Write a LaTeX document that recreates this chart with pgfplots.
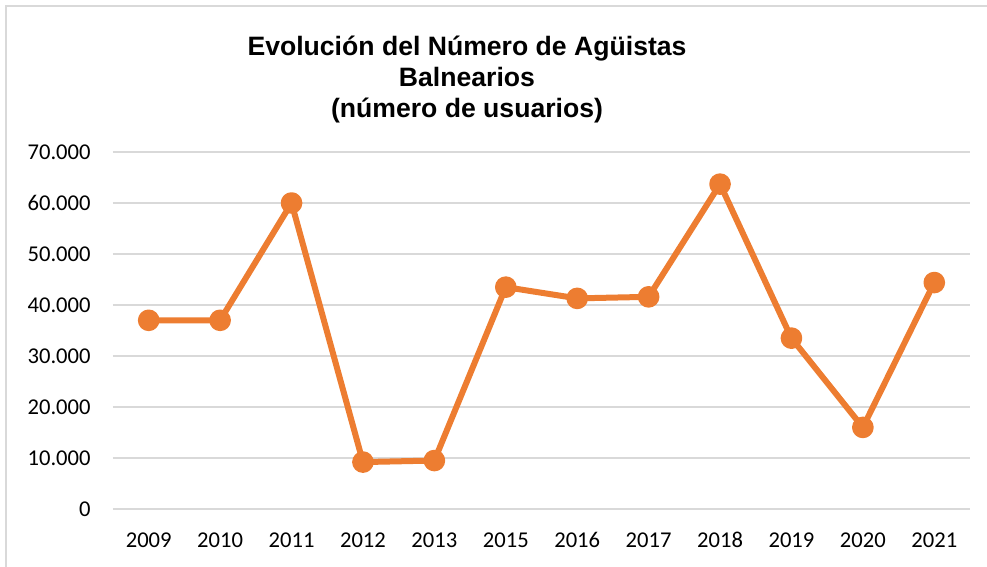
\documentclass[border=0pt]{standalone}
\usepackage{pgfplots}
\pgfplotsset{compat=1.18}
\usepackage{fontspec}
\setmainfont{Carlito}
\newfontfamily\titlefont{Liberation Sans}
\definecolor{serie}{HTML}{ED7D31}
\definecolor{rejilla}{HTML}{D9D9D9}
\begin{document}
\begin{tikzpicture}
\path[use as bounding box] (0,0) rectangle (493.5pt,283.5pt);
% marco del grafico (solo borde izquierdo y superior visibles)
\draw[rejilla, line width=1pt] (3pt,-1pt) -- (3pt,280.5pt) -- (494.5pt,280.5pt);
\node[align=center, font=\titlefont\bfseries\fontsize{13.3}{15.5}\selectfont]
  at (233.5pt,243.5pt) {Evolución del Número de Agüistas\\Balnearios\\(número de usuarios)};
\begin{axis}[
    at={(56.5pt,29pt)}, anchor=south west,
    scale only axis,
    width=428.5pt, height=178.5pt,
    xmin=-0.5, xmax=11.5,
    ymin=0, ymax=70000,
    xtick={0,...,11},
    xticklabels={2009,2010,2011,2012,2013,2015,2016,2017,2018,2019,2020,2021},
    ytick={0,10000,...,70000},
    scaled y ticks=false,
    y tick label style={/pgf/number format/fixed, /pgf/number format/1000 sep={.}},
    /pgf/number format/assume math mode=true,
    tick label style={font=\fontsize{11.3}{13}\selectfont, text=black, inner sep=0pt},
    yticklabel style={anchor=east, xshift=-11pt},
    xticklabel style={anchor=north, yshift=-11.5pt},
    major tick length=0pt,
    axis line style={draw=none},
    ymajorgrids,
    grid style={rejilla, line width=1pt},
    clip=false,
]
\addplot[serie, line width=3pt, line join=round, mark=*, mark size=3.9pt,
         mark options={fill=serie, draw=none}]
  coordinates {
    (0,37000) (1,37000) (2,60000) (3,9200) (4,9500) (5,43500)
    (6,41300) (7,41600) (8,63700) (9,33500) (10,16000) (11,44400)
  };
\end{axis}
\end{tikzpicture}
\end{document}
